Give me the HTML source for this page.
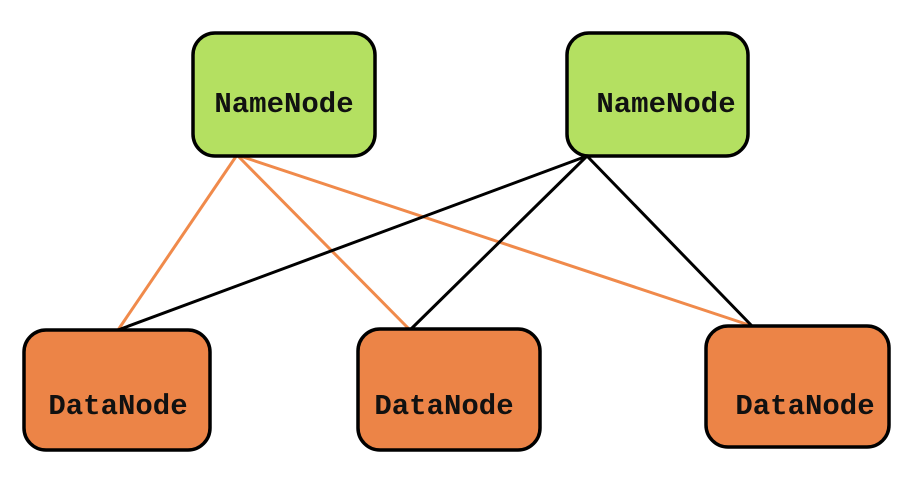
<!DOCTYPE html>
<html><head><style>
html,body{margin:0;padding:0;background:#fff;}
svg{display:block;}
text{font-family:"Liberation Mono","DejaVu Sans Mono",monospace;font-weight:bold;font-size:29px;fill:#111;}
</style></head><body>
<svg width="909" height="497" viewBox="0 0 909 497">
<g stroke-width="3" fill="none">
<line x1="237" y1="155" x2="118" y2="330" stroke="#f08a4b"/>
<line x1="237" y1="155" x2="410" y2="330" stroke="#f08a4b"/>
<line x1="237" y1="155" x2="752" y2="326" stroke="#f08a4b"/>
<line x1="587" y1="156" x2="118" y2="330" stroke="#000"/>
<line x1="587" y1="156" x2="410" y2="330" stroke="#000"/>
<line x1="587" y1="156" x2="752" y2="326" stroke="#000"/>
</g>
<g stroke="#000" stroke-width="3.5">
<rect x="193" y="33" width="182" height="123" rx="22" fill="#b4e061"/>
<rect x="567" y="33" width="181" height="123" rx="22" fill="#b4e061"/>
<rect x="24" y="330" width="186" height="120" rx="22" fill="#ec8447"/>
<rect x="358" y="329" width="182" height="121" rx="22" fill="#ec8447"/>
<rect x="706" y="326" width="183" height="121" rx="22" fill="#ec8447"/>
</g>
<text x="284" y="112" text-anchor="middle">NameNode</text>
<text x="666" y="112" text-anchor="middle">NameNode</text>
<text x="118" y="414" text-anchor="middle">DataNode</text>
<text x="444" y="414" text-anchor="middle">DataNode</text>
<text x="805" y="414" text-anchor="middle">DataNode</text>
</svg>
</body></html>
